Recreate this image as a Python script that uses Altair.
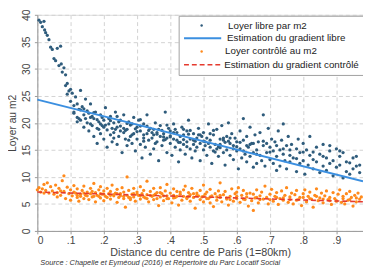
import altair as alt
import pandas as pd

# ---- data ----
libre_x = [0.005,0.01,0.015,0.02,0.022,0.025,0.03,0.035,0.04,0.045,0.05,0.055,0.06,0.065,0.07,0.072,0.075,0.08,0.085,0.085,
           0.09,0.095,0.09,0.1,0.1,0.105,0.11,0.11,0.115,0.12,0.12,0.125,0.13,0.13,0.135,0.14,0.14,0.145,0.15,0.15,
           0.155,0.16,0.16,0.165,0.17,0.17,0.175,0.18,0.18,0.185,0.19,0.19,0.195,0.2,0.2,0.205,0.21,0.21,0.215,0.22,
           0.22,0.225,0.23,0.23,0.235,0.24,0.24,0.245,0.25,0.25,0.255,0.26,0.26,0.265,0.27,0.27,0.275,0.28,0.28,0.285,
           0.29,0.29,0.295,0.3,0.3,0.305,0.31,0.31,0.315,0.32,0.32,0.325,0.33,0.33,0.335,0.34,0.34,0.345,0.35,0.35,
           0.355,0.36,0.36,0.365,0.37,0.37,0.375,0.38,0.38,0.385,0.39,0.39,0.395,0.4,0.4,0.405,0.41,0.41,0.415,0.42,
           0.42,0.425,0.43,0.43,0.435,0.44,0.44,0.445,0.45,0.45,0.455,0.46,0.46,0.465,0.47,0.47,0.475,0.48,0.48,0.485,
           0.49,0.49,0.495,0.5,0.5,0.505,0.51,0.51,0.515,0.52,0.52,0.525,0.53,0.53,0.535,0.54,0.54,0.545,0.55,0.55,
           0.555,0.56,0.56,0.565,0.57,0.57,0.575,0.58,0.58,0.585,0.59,0.59,0.595,0.6,0.6,0.605,0.61,0.61,0.615,0.62,
           0.62,0.625,0.63,0.63,0.635,0.64,0.64,0.645,0.65,0.65,0.655,0.66,0.66,0.665,0.67,0.67,0.675,0.68,0.68,0.685,
           0.69,0.69,0.695,0.7,0.7,0.705,0.71,0.71,0.715,0.72,0.72,0.725,0.73,0.73,0.735,0.74,0.74,0.745,0.75,0.75,
           0.755,0.76,0.76,0.765,0.77,0.78,0.78,0.785,0.79,0.79,0.8,0.8,0.805,0.81,0.815,0.82,0.82,0.83,0.83,0.84,
           0.84,0.85,0.85,0.86,0.86,0.87,0.87,0.88,0.88,0.89,0.89,0.9,0.9,0.91,0.91,0.92,0.92,0.93,0.93,0.94,
           0.95,0.95,0.96,0.97,0.97,
           0.11,0.125,0.14,0.155,0.165,0.18,0.19,0.2,0.215,0.225,0.235,0.245,0.26,0.27,0.285,0.295,0.31,0.32,0.335,0.35,
           0.36,0.375,0.385,0.4,0.41,0.425,0.44,0.455,0.47,0.485,0.5,0.515,0.53,0.545,0.56,0.575,0.59,0.61,0.63,0.65,
           0.12,0.13,0.145,0.16,0.17,0.185,0.195,0.205,0.22,0.23,0.24,0.25,0.265,0.275,0.285,0.3,0.31,0.32,0.33,0.345,
           0.355,0.365,0.38,0.39,0.4,0.415,0.43,0.44,0.45,0.46,0.475,0.49,0.505,0.52,0.535,0.55,0.565,0.58,0.6,0.62,
           0.64,0.66,0.68,0.7,0.72,0.74,0.76,0.78,0.8,0.83,0.86,0.88,0.91,0.94,0.96]
libre_y = [39.0,38.6,37.8,38.8,37.2,36.7,36.2,35.4,34.0,33.6,31.9,31.5,33.8,30.6,34.2,30.9,29.4,30.2,28.9,26.9,
           27.3,25.9,25.3,26.2,24.0,25.5,23.2,22.0,24.8,23.5,21.0,22.5,26.0,20.5,23.0,21.5,19.2,24.4,22.2,20.0,
           18.5,21.0,23.5,19.5,20.8,17.5,22.0,19.0,16.2,20.2,21.5,18.0,19.5,17.0,20.5,22.8,18.7,15.5,19.8,21.2,
           17.8,16.5,20.0,18.2,22.0,19.2,16.0,17.5,20.5,18.5,14.5,19.0,21.5,17.0,18.8,15.8,20.2,17.5,19.6,16.2,
           21.0,18.0,14.8,19.2,17.0,20.5,16.0,18.5,13.5,17.8,19.8,15.5,18.0,21.5,16.8,19.0,14.2,17.2,18.8,15.2,
           20.0,16.5,18.2,13.0,17.5,19.5,15.8,18.0,16.8,22.0,14.5,17.2,19.0,16.2,18.5,14.0,17.0,19.8,15.5,16.8,
           18.2,12.8,17.5,15.0,19.2,16.0,17.8,14.2,18.5,16.5,20.5,15.2,17.0,13.5,16.0,18.0,14.8,17.2,15.5,19.0,
           16.2,13.0,17.5,15.0,18.2,16.5,14.0,17.2,19.8,15.5,16.8,12.5,17.8,14.8,16.0,18.8,15.2,13.8,17.0,16.0,
           19.5,14.5,16.8,12.2,17.5,15.0,20.0,14.0,16.2,18.0,13.2,15.8,17.2,14.8,16.5,11.5,18.5,15.2,13.5,16.8,
           20.8,14.2,17.5,12.8,15.5,19.2,13.8,16.2,11.8,14.5,17.8,15.0,12.5,16.5,14.0,18.2,13.0,15.8,21.5,12.0,
           16.2,14.5,19.0,13.2,15.5,17.0,12.5,14.8,16.5,11.2,13.8,18.5,15.0,12.0,16.8,14.2,19.8,13.0,15.8,11.5,
           17.5,14.0,12.8,16.0,13.5,15.2,11.0,17.0,12.5,14.5,16.2,13.0,10.5,15.0,12.2,14.0,17.5,11.5,13.2,15.5,
           12.8,10.8,14.2,12.0,16.0,13.5,11.2,14.8,12.5,10.2,13.0,15.2,11.8,13.8,12.2,9.8,14.5,11.0,12.8,10.5,
           13.5,11.5,12.0,10.8,12.2,
           21.8,20.8,22.6,21.8,21.2,20.6,19.8,19.2,20.8,19.0,18.8,20.2,18.2,19.9,17.8,18.9,19.4,17.2,18.6,17.8,
           17.9,18.6,16.9,17.6,18.2,16.4,16.9,17.9,16.8,17.8,16.6,16.2,18.6,15.6,17.2,16.6,15.2,16.4,15.8,16.2,
           20.2,22.4,20.8,19.8,21.9,18.8,21.0,19.6,20.4,17.2,21.2,19.4,18.6,16.8,19.8,18.4,20.6,16.6,19.4,18.2,
           16.2,18.8,17.4,19.6,17.4,18.8,16.4,18.8,15.6,18.6,16.6,17.8,15.8,18.0,14.6,15.4,16.4,17.2,15.6,14.8,
           16.0,14.2,16.6,14.6,15.8,15.2,15.0,13.4,14.6,14.6,13.8,15.8,14.8,12.6,13.8]

ctrl_x = [0.0,0.005,0.01,0.015,0.02,0.025,0.03,0.035,0.04,0.045,0.05,0.055,0.06,0.06,0.065,0.07,0.075,0.08,0.08,0.085,
          0.09,0.095,0.1,0.1,0.105,0.11,0.115,0.12,0.12,0.125,0.13,0.135,0.14,0.14,0.145,0.15,0.155,0.16,0.16,0.165,
          0.17,0.175,0.175,0.18,0.185,0.19,0.19,0.195,0.2,0.2,0.205,0.21,0.215,0.22,0.22,0.225,0.23,0.235,0.24,0.24,
          0.245,0.25,0.255,0.26,0.26,0.265,0.27,0.27,0.275,0.28,0.285,0.29,0.29,0.295,0.3,0.305,0.31,0.31,0.315,0.32,
          0.325,0.33,0.33,0.335,0.34,0.345,0.35,0.35,0.355,0.36,0.365,0.37,0.37,0.375,0.38,0.385,0.39,0.39,0.395,0.4,
          0.405,0.41,0.41,0.415,0.42,0.425,0.43,0.435,0.44,0.44,0.445,0.45,0.455,0.46,0.46,0.465,0.47,0.475,0.48,0.485,
          0.49,0.49,0.495,0.5,0.5,0.505,0.51,0.515,0.52,0.52,0.525,0.53,0.535,0.54,0.545,0.55,0.55,0.555,0.56,0.565,
          0.57,0.575,0.58,0.585,0.59,0.595,0.6,0.6,0.605,0.61,0.615,0.62,0.625,0.63,0.635,0.64,0.645,0.65,0.65,0.655,
          0.66,0.665,0.67,0.675,0.68,0.685,0.69,0.695,0.7,0.705,0.71,0.715,0.72,0.725,0.73,0.735,0.74,0.745,0.75,0.755,
          0.76,0.765,0.77,0.775,0.78,0.785,0.79,0.795,0.8,0.805,0.81,0.815,0.82,0.825,0.83,0.835,0.84,0.845,0.85,0.855,
          0.86,0.865,0.87,0.875,0.88,0.885,0.89,0.895,0.9,0.905,0.91,0.915,0.92,0.925,0.93,0.935,0.94,0.945,0.95,0.955,
          0.96,0.965,0.97,0.975,
          0.12,0.14,0.17,0.19,0.21,0.23,0.25,0.28,0.3,0.32,0.34,0.36,0.38,0.42,0.45,0.48,0.51,0.54,0.57,0.62,
          0.66,0.7,0.74,0.78,0.82,0.86,0.9,0.94,
          0.02,0.07,0.11,0.13,0.15,0.165,0.185,0.2,0.22,0.24,0.26,0.275,0.29,0.31,0.33,0.35,0.37,0.39,0.41,0.43,
          0.455,0.47,0.5,0.52,0.55,0.58,0.6,0.63,0.67,0.72,0.76,0.8,0.84,0.88,0.92,0.96]
ctrl_y = [7.6,8.0,7.2,7.8,8.6,7.5,8.9,7.0,8.2,7.4,6.8,8.5,7.1,6.3,7.9,6.6,9.3,10.2,7.3,6.0,
          8.1,6.9,7.6,5.7,6.5,8.4,7.0,6.2,7.8,5.5,6.8,7.5,6.0,8.3,6.6,7.2,5.8,6.9,7.9,6.3,
          8.8,7.1,5.4,6.6,7.6,6.1,8.2,6.8,7.4,5.6,6.4,7.9,6.9,5.9,7.3,8.5,6.5,7.0,5.3,7.7,
          6.2,6.9,8.0,6.0,7.2,4.4,10.0,6.6,7.5,5.8,6.8,7.9,6.3,5.5,7.2,6.6,8.2,5.9,6.9,7.5,
          6.1,9.2,6.7,5.4,7.3,6.4,7.9,5.8,6.8,7.1,4.7,6.3,8.0,6.9,5.6,7.4,6.5,8.6,6.0,7.0,
          5.2,6.6,7.8,6.2,7.3,4.8,6.8,5.7,7.6,6.4,8.3,6.0,7.1,5.5,6.7,7.9,6.2,4.2,7.0,6.5,
          5.8,7.5,6.3,8.5,5.4,6.8,7.2,6.0,5.2,7.7,6.5,4.5,6.9,5.7,7.4,6.2,8.9,5.4,6.7,7.3,
          5.9,4.8,6.4,7.8,5.5,6.9,7.2,6.0,8.0,5.3,6.6,7.5,5.8,6.3,4.6,7.0,5.6,6.8,3.8,6.1,
          7.6,5.2,6.5,7.2,5.9,8.3,6.2,5.0,6.8,7.7,5.5,6.4,7.1,4.9,6.0,7.4,5.7,6.6,8.0,5.3,
          6.3,7.0,5.0,6.7,7.5,5.8,6.2,4.7,6.9,7.6,5.4,6.4,7.2,5.9,4.4,6.6,7.8,5.6,6.1,7.0,
          5.2,6.5,7.4,5.8,6.2,4.9,7.1,6.0,5.5,6.8,7.6,5.3,6.4,5.0,6.9,5.7,7.3,6.2,4.6,6.6,
          5.4,7.0,5.9,6.3,
          6.6,7.0,6.4,6.9,6.2,6.7,6.5,6.1,6.8,6.3,6.6,6.0,6.5,6.4,6.2,6.6,6.0,6.3,6.1,5.9,
          6.2,5.8,6.1,5.7,6.0,5.9,5.6,5.8,
          7.0,7.4,7.2,6.4,6.5,7.3,6.4,6.8,6.6,6.9,6.4,6.2,6.9,6.5,6.0,6.6,7.1,6.0,6.1,7.2,
          6.4,6.9,6.4,6.3,6.6,5.8,6.4,6.9,5.8,6.2,5.8,6.2,6.4,5.6,6.0,6.1]

grad_x = [0.0, 0.98]
grad_libre_y = [24.3, 9.2]
grad_ctrl_y = [7.2, 5.4]

x_ticks = [0, 0.1, 0.2, 0.3, 0.4, 0.5, 0.6, 0.7, 0.8, 0.9]
y_ticks = [0, 5, 10, 15, 20, 25, 30, 35, 40]

legend_labels = ["Loyer libre par m2", "Estimation du gradient libre",
                 "Loyer contrôlé au m2", "Estimation du gradient contrôlé"]
source_text = "Source : Chapelle et Eyméoud (2016) et Répertoire du Parc Locatif Social"

BLUE_PT = "#2f5c7c"
BLUE_LN = "#3b8fe0"
ORANGE = "#ff8a1c"
RED = "#e53a2e"
FONT = "Liberation Sans"

W, H = 333, 221

df_libre = pd.DataFrame({"x": libre_x, "y": libre_y})
df_ctrl = pd.DataFrame({"x": ctrl_x, "y": ctrl_y})
df_gl = pd.DataFrame({"x": grad_x, "y": grad_libre_y})
df_gc = pd.DataFrame({"x": grad_x, "y": grad_ctrl_y})

xscale = alt.Scale(domain=[0, 0.98], nice=False, zero=False)
yscale = alt.Scale(domain=[0, 40], nice=False)

xaxis = alt.Axis(values=x_ticks,
                 labelExpr="datum.value == 0 ? '0' : replace(format(datum.value, '.1f'), '0.', '.')",
                 labelOverlap=False,
                 title="Distance du centre de Paris (1=80km)",
                 grid=True, gridDash=[4, 3], gridColor="#d2d2d2",
                 domainColor="#9a9a9a", tickColor="#9a9a9a", tickSize=3,
                 labelFontSize=10.5, labelColor="#444", labelPadding=2, labelFont=FONT,
                 titleFontSize=11, titleColor="#444", titleFont=FONT, titleFontWeight="normal",
                 titlePadding=1)
yaxis = alt.Axis(values=y_ticks,
                 labelOverlap=False,
                 title="Loyer au m2", labelAngle=270, labelAlign="center", labelBaseline="bottom",
                 grid=True, gridDash=[4, 3], gridColor="#d2d2d2",
                 domainColor="#9a9a9a", tickColor="#9a9a9a", tickSize=3,
                 labelFontSize=10.5, labelColor="#444", labelPadding=3, labelFont=FONT,
                 titleFontSize=10.5, titleColor="#444", titleFont=FONT, titleFontWeight="normal",
                 titlePadding=4)

xenc = alt.X("x:Q", scale=xscale, axis=xaxis)
yenc = alt.Y("y:Q", scale=yscale, axis=yaxis)

pts_libre = alt.Chart(df_libre).mark_circle(size=11, color=BLUE_PT, opacity=1).encode(x=xenc, y=yenc)
pts_ctrl = alt.Chart(df_ctrl).mark_circle(size=11, color=ORANGE, opacity=1).encode(x=xenc, y=yenc)
line_libre = alt.Chart(df_gl).mark_line(color=BLUE_LN, strokeWidth=2).encode(x=xenc, y=yenc)
line_ctrl = alt.Chart(df_gc).mark_line(color=RED, strokeWidth=1.6, strokeDash=[5, 3]).encode(x=xenc, y=yenc)

one = pd.DataFrame({"k": [0]})
legend_y = [11, 24, 37.5, 51]
lg_box = alt.Chart(one).mark_rect(fill="white", stroke="#a0a0a0", strokeWidth=1).encode(
    x=alt.value(145), x2=alt.value(345), y=alt.value(1.5), y2=alt.value(62))
lg_layers = [lg_box]
lg_layers.append(alt.Chart(one).mark_circle(size=6, color=BLUE_PT, opacity=1).encode(
    x=alt.value(168), y=alt.value(legend_y[0])))
lg_layers.append(alt.Chart(one).mark_rule(color=BLUE_LN, strokeWidth=2).encode(
    x=alt.value(150), x2=alt.value(188), y=alt.value(legend_y[1])))
lg_layers.append(alt.Chart(one).mark_circle(size=6, color=ORANGE, opacity=1).encode(
    x=alt.value(168), y=alt.value(legend_y[2])))
lg_layers.append(alt.Chart(one).mark_rule(color=RED, strokeWidth=1.6, strokeDash=[5, 3]).encode(
    x=alt.value(150), x2=alt.value(188), y=alt.value(legend_y[3])))
text_x = [195, 194, 192, 191]
for lab, ly, tx in zip(legend_labels, legend_y, text_x):
    lg_layers.append(alt.Chart(pd.DataFrame({"t": [lab]})).mark_text(
        align="left", baseline="middle", fontSize=10, font=FONT, color="#222").encode(
        x=alt.value(tx), y=alt.value(ly), text="t:N"))

src = alt.Chart(pd.DataFrame({"t": [source_text]})).mark_text(
    align="left", baseline="middle", fontSize=7.5, font=FONT, fontStyle="italic", color="#333").encode(
    x=alt.value(3), y=alt.value(H + 33), text="t:N")

chart = alt.layer(pts_libre, pts_ctrl, line_libre, line_ctrl, *lg_layers, src).properties(
    width=W, height=H,
    autosize=alt.AutoSizeParams(type="none"),
    padding={"left": 30, "top": 4, "right": 0, "bottom": 38},
).configure_view(stroke=None).configure(background="white")

chart.save("out.html", embed_options={"renderer": "svg", "actions": False})
